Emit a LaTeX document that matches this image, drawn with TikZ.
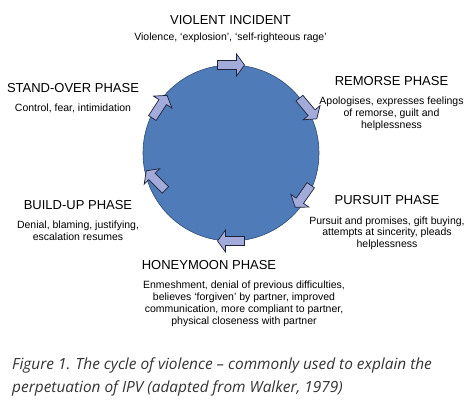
\documentclass[tikz,border=0pt]{standalone}
\usepackage{fontspec}
\setmainfont{Liberation Sans}
\newfontfamily\captionfont{Open Sans}
\usepackage{tikz}
\usetikzlibrary{positioning,calc}
\definecolor{cycleblue}{HTML}{4F7BB8}
\definecolor{cycleline}{HTML}{2E4A75}
\definecolor{arrowfill}{HTML}{A3ABDA}
\definecolor{arrowdark}{HTML}{7F86C9}
\definecolor{arrowline}{HTML}{1E2238}
\tikzset{
  phasetitle/.style={
    font=\fontsize{13}{15}\selectfont,
    inner sep=0pt
  },
  phasetext/.style={
    font=\fontsize{10.5}{11.8}\selectfont,
    align=center,
    inner sep=0pt
  },
  captiontext/.style={
    font=\captionfont\itshape\fontsize{15.4}{23}\selectfont,
    align=left,
    inner sep=0pt,
    text=black!80
  },
  phasearrow/.pic={
    \path[fill=arrowfill, draw=arrowline, line width=0.7pt, pic actions]
      (-13.5,-4.5) -- (5.5,-4.5) -- (5.5,-11) -- (13.5,0) -- (5.5,11)
      -- (5.5,4.5) -- (-13.5,4.5) -- cycle;
  }
}
\begin{document}
\begin{tikzpicture}[x=1pt,y=1pt,node distance=11pt]
  \useasboundingbox (0,0) rectangle (468,405);
  \node[circle,fill=cycleblue,draw=cycleline,line width=0.6pt,minimum size=176pt,inner sep=0pt] (cycle) at (231,252) {};

  \pic (arrowviolent) [rotate=0] at ($(cycle.center)+(90:88)$) {phasearrow};
  \pic (arrowremorse) [rotate=-50,fill=arrowdark] at ($(cycle.center)+(30:89)$) {phasearrow};
  \pic (arrowpursuit) [rotate=-125] at ($(cycle.center)+(-31:84)$) {phasearrow};
  \pic (arrowhoney) [rotate=180] at ($(cycle.center)+(-90:88)$) {phasearrow};
  \pic (arrowbuild) [rotate=135] at ($(cycle.center)+(200:80)$) {phasearrow};
  \pic (arrowstand) [rotate=57] at ($(cycle.center)+(147:85)$) {phasearrow};

  \node[phasetitle] (violent) at (230.5,385) {VIOLENT INCIDENT};
  \node[phasetext,below=8pt of violent] (violenttxt) {Violence, ‘explosion’, ‘self-righteous rage’};

  \node[phasetitle] (remorse) at (391.5,324) {REMORSE PHASE};
  \node[phasetext,below=of remorse] (remorsetxt) {Apologises, expresses feelings\\of remorse, guilt and\\helplessness};

  \node[phasetitle] (pursuit) at (387,204.5) {PURSUIT PHASE};
  \node[phasetext,below=of pursuit] (pursuittxt) {Pursuit and promises, gift buying,\\attempts at sincerity, pleads\\helplessness};

  \node[phasetitle] (honeymoon) at (209,140) {HONEYMOON PHASE};
  \node[phasetext,below=of honeymoon,xshift=35pt] (honeymoontxt) {Enmeshment, denial of previous difficulties,\\believes ‘forgiven’ by partner, improved\\communication, more compliant to partner,\\physical closeness with partner};

  \node[phasetitle] (buildup) at (78,200) {BUILD-UP PHASE};
  \node[phasetext,below=of buildup] (builduptxt) {Denial, blaming, justifying,\\escalation resumes};

  \node[phasetitle] (standover) at (73,317) {STAND-OVER PHASE};
  \node[phasetext,below=of standover] (standovertxt) {Control, fear, intimidation};

  \node[captiontext,anchor=north west] (caption) at (12,47.5) {Figure 1. The cycle of violence – commonly used to explain the\\perpetuation of IPV (adapted from Walker, 1979)};
\end{tikzpicture}
\end{document}
